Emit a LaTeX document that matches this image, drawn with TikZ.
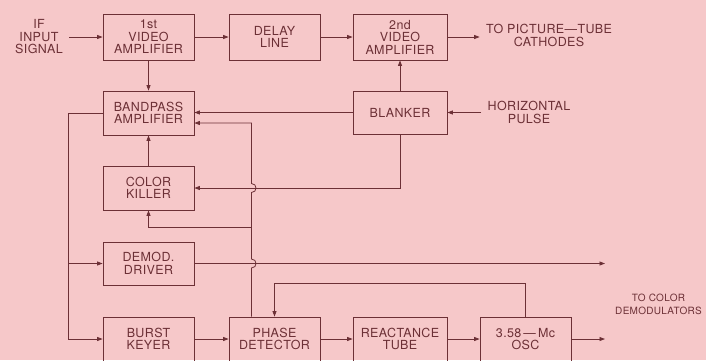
\documentclass[tikz,border=0pt]{standalone}
\usepackage{fontspec}
\setmainfont{TeX Gyre Heros}[LetterSpace=3]
\usetikzlibrary{arrows.meta}
\definecolor{paper}{RGB}{246,200,201}
\definecolor{ink}{RGB}{108,48,54}

\begin{document}
\begin{tikzpicture}[x=1pt, y=-1pt, line width=0.8pt, color=ink,
  font=\fontsize{12.5}{12.5}\selectfont,
  blockbox/.style={draw, minimum width=91pt, minimum height=44pt, inner sep=2pt, align=center},
  lbl/.style={align=center, inner sep=6pt},
  arr/.style={-{Triangle[length=5.5pt, width=4pt]}}]

  % paper
  \useasboundingbox (0,0) rectangle (706,360);
  \fill[paper] (0,0) rectangle (706,360);
  \clip (0,0) rectangle (706,360);

  % top row
  \node[lbl] (ifsig) at (39,37) {IF\\INPUT\\SIGNAL};
  \node[blockbox, minimum height=46pt] (vid1) at (148.5,37) {1st\\VIDEO\\AMPLIFIER};
  \node[blockbox, minimum height=46pt] (delay) at (274.5,37) {DELAY\\LINE};
  \node[blockbox, minimum height=46pt, minimum width=94pt] (vid2) at (400,37) {2nd\\VIDEO\\AMPLIFIER};
  \node[lbl] (pictube) at (549,35.5) {TO PICTURE---TUBE\\CATHODES};

  % left column and blanker
  \node[blockbox] (bandpass) at (148.5,113) {BANDPASS\\AMPLIFIER};
  \node[blockbox, minimum width=94pt, minimum height=43pt] (blanker) at (400,112.5) {BLANKER};
  \node[lbl] (hpulse) at (529,112.5) {HORIZONTAL\\PULSE};
  \node[blockbox] (killer) at (148.5,188) {COLOR\\KILLER};
  \node[blockbox, minimum height=43pt] (demod) at (148.5,263.5) {DEMOD.\\DRIVER};

  % bottom row
  \node[blockbox] (burst) at (148.5,339) {BURST\\KEYER};
  \node[blockbox] (phase) at (274.5,339) {PHASE\\DETECTOR};
  \node[blockbox, minimum width=94pt] (react) at (400,339) {REACTANCE\\TUBE};
  \node[blockbox] (osc) at (525.5,339) {3.58\,---\,Mc\\OSC};
  \node[lbl, font=\fontsize{10}{12.5}\selectfont] (colordem) at (658.5,304.5) {TO COLOR\\DEMODULATORS};

  \coordinate (demodout) at (605,263.5);
  \coordinate (oscout) at (605,339);
  \coordinate (split) at (68,113);
  \coordinate (fb) at ([xshift=-23pt]phase.north);

  % video path
  \draw[arr] (ifsig.east |- vid1) -- (vid1.west);
  \draw[arr] (vid1.east) -- (delay.west);
  \draw[arr] (delay.east) -- (vid2.west);
  \draw[arr] (vid2.east) -- (vid2.east -| pictube.west);
  \draw[arr] (vid1.south) -- (bandpass.north);

  % blanker
  \draw[arr] (hpulse.west |- blanker) -- (blanker.east);
  \draw[arr] (blanker.north) -- (vid2.south);
  \draw[arr] (blanker.west) -- (blanker.west -| bandpass.east);
  \draw[arr] (blanker.south) |- (killer.east);
  \draw[arr] (killer.north) -- (bandpass.south);

  % phase detector back to killer and bandpass, hopping the crossings
  \draw[arr] (fb) -- (251.5,268) .. controls (257.5,268) and (257.5,259) .. (251.5,259)
    -- (251.5,192.5) .. controls (257.5,192.5) and (257.5,183.5) .. (251.5,183.5)
    -- (251.5,123) -- ([yshift=-10pt]bandpass.east);
  \draw[arr] (251.5,227) -| (killer.south);

  % chroma out of the bandpass amplifier
  \draw (bandpass.west) -- (split);
  \draw[arr] (split) |- (burst.west);
  \draw[arr] (split |- demod) -- (demod.west);
  \draw[arr] (demod.east) -- (demodout);

  % oscillator loop
  \draw[arr] (burst.east) -- (phase.west);
  \draw[arr] (phase.east) -- (react.west);
  \draw[arr] (react.east) -- (osc.west);
  \draw[arr] (osc.east) -- (oscout);
  \draw[arr] (osc.north) -- ++(0,-33) -| (phase.north);

\end{tikzpicture}
\end{document}
